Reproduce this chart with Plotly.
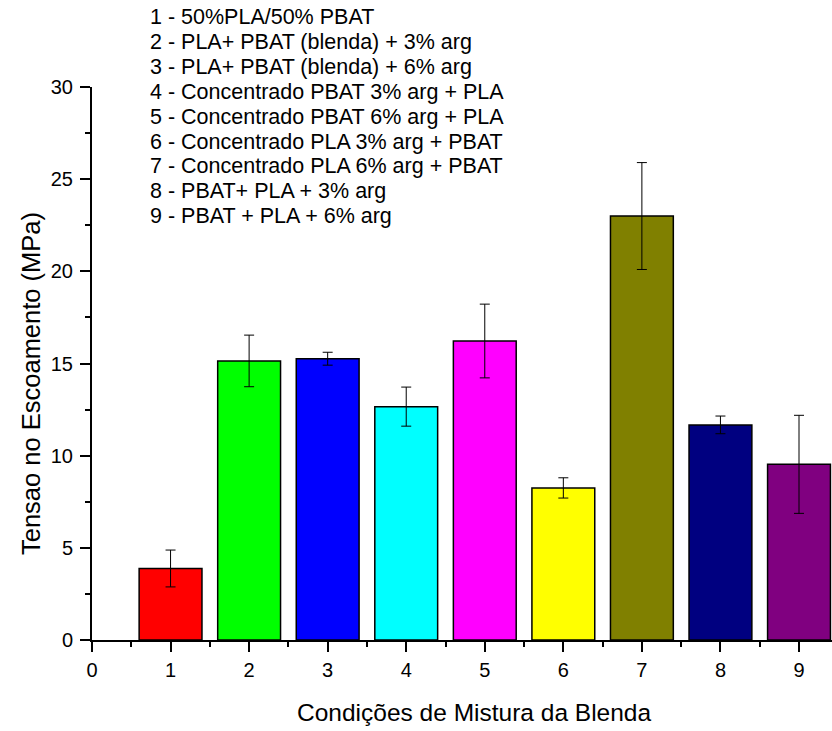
import plotly.graph_objects as go

# Blend conditions (x positions) and measured yield stress
condicoes = [1, 2, 3, 4, 5, 6, 7, 8, 9]
tensao = [3.88, 15.14, 15.26, 12.66, 16.22, 8.25, 23.0, 11.67, 9.53]
desvio = [1.0, 1.40, 0.35, 1.06, 2.0, 0.55, 2.9, 0.48, 2.66]
cores = ["#FF0000", "#00FF00", "#0000FF", "#00FFFF", "#FF00FF",
         "#FFFF00", "#808000", "#000080", "#800080"]

legenda = [
    "1 - 50%PLA/50% PBAT",
    "2 - PLA+ PBAT (blenda) + 3% arg",
    "3 - PLA+ PBAT (blenda) + 6% arg",
    "4 - Concentrado PBAT 3% arg + PLA",
    "5 - Concentrado PBAT 6% arg + PLA",
    "6 - Concentrado PLA 3% arg + PBAT",
    "7 - Concentrado PLA 6% arg + PBAT",
    "8 - PBAT+ PLA + 3% arg",
    "9 - PBAT + PLA + 6% arg",
]

titulo_x = "Condições de Mistura da Blenda"
titulo_y = "Tensao no Escoamento (MPa)"

FONT = "Liberation Sans, Arial, sans-serif"

fig = go.Figure()
fig.add_trace(go.Bar(
    x=condicoes,
    y=tensao,
    width=0.8,
    marker=dict(color=cores, line=dict(color="black", width=1.5)),
    error_y=dict(type="data", array=desvio, visible=True,
                 color="black", thickness=1, width=5),
    showlegend=False,
))

W, H = 832, 731
ml, mr, mt, mb = 92, 0, 87, 91
plot_w = W - ml - mr
plot_h = H - mt - mb


def px_x(x):
    return (x - ml) / plot_w


def px_y(y):
    return (H - mb - y) / plot_h


# Legend block: one text line per condition
for i, txt in enumerate(legenda):
    fig.add_annotation(
        text=txt, xref="paper", yref="paper",
        x=px_x(148), y=px_y(17 + i * 24.9),
        xanchor="left", yanchor="middle", showarrow=False,
        font=dict(family=FONT, size=21.5, color="black"),
    )

# Axis titles
fig.add_annotation(
    text=titulo_x, xref="paper", yref="paper",
    x=px_x(474), y=px_y(712), xanchor="center", yanchor="middle",
    showarrow=False, font=dict(family=FONT, size=24.5, color="black"),
)
fig.add_annotation(
    text=titulo_y, xref="paper", yref="paper", textangle=-90,
    x=px_x(31), y=px_y(384), xanchor="center", yanchor="middle",
    showarrow=False, font=dict(family=FONT, size=25.5, color="black"),
)

axis_common = dict(
    showline=True, linecolor="black", linewidth=2,
    ticks="outside", ticklen=10, tickwidth=2, tickcolor="black",
    showgrid=False, zeroline=False, mirror=False,
    tickfont=dict(family=FONT, size=20, color="black"),
)

fig.update_xaxes(
    range=[0, 9.42], tickmode="linear", tick0=0, dtick=1,
    minor=dict(ticks="outside", ticklen=5, tickwidth=2, tickcolor="black", dtick=0.5, tick0=0),
    ticklabelstandoff=1,
    **axis_common,
)
fig.update_yaxes(
    range=[0, 30], tickmode="linear", tick0=0, dtick=5,
    minor=dict(ticks="outside", ticklen=5, tickwidth=2, tickcolor="black", dtick=2.5, tick0=0),
    ticklabelstandoff=3,
    **axis_common,
)

fig.update_layout(
    width=W, height=H,
    margin=dict(l=ml, r=mr, t=mt, b=mb, autoexpand=False),
    paper_bgcolor="white", plot_bgcolor="white",
    bargap=0.2,
)

fig.write_html("out.html")
